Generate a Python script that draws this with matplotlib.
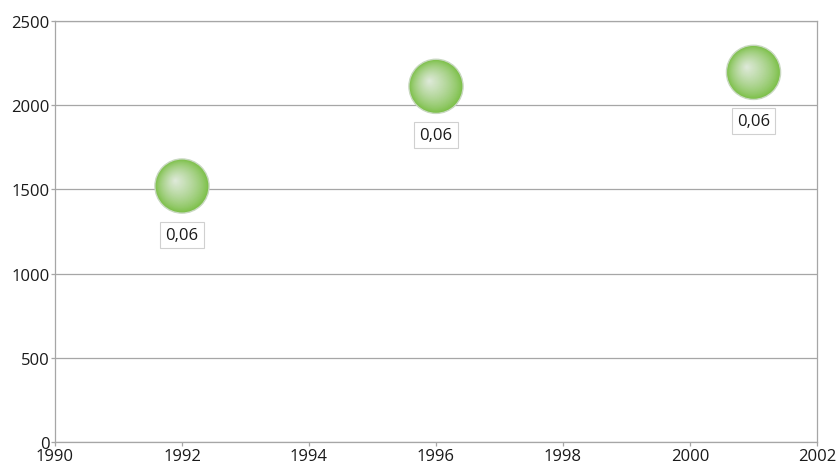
import numpy as np
import matplotlib
matplotlib.use("Agg")
import matplotlib.pyplot as plt
from matplotlib.transforms import ScaledTranslation

years = [1992, 1996, 2001]
values = [1520, 2112, 2195]
bubble_sizes = [0.06, 0.06, 0.06]
labels = ["0,06", "0,06", "0,06"]
x_ticks = [1990, 1992, 1994, 1996, 1998, 2000, 2002]
y_ticks = [0, 500, 1000, 1500, 2000, 2500]

plt.rcParams['font.family'] = ['Open Sans', 'DejaVu Sans']

fig = plt.figure(figsize=(8.37, 4.64), dpi=100)
ax = fig.add_axes([55 / 837, 21 / 464, 762 / 837, 421 / 464])
ax.set_xlim(1990, 2002)
ax.set_ylim(0, 2500)
ax.set_xticks(x_ticks)
ax.set_yticks(y_ticks)
ax.tick_params(axis='both', length=3, width=0.9, color='#a6a6a6',
               labelsize=12, labelcolor='#1a1a1a', pad=1)
ax.tick_params(axis='x', pad=1)
ax.yaxis.grid(True, color='#a6a6a6', linewidth=0.9)
ax.set_axisbelow(True)
for sp in ax.spines.values():
    sp.set_color('#a6a6a6')
    sp.set_linewidth(0.9)

# bubbles: diameter scales with sqrt of bubble size, radial shading
radius_pt = 19.5 * np.sqrt(np.array(bubble_sizes) / 0.06)
edge = np.array([120, 190, 66]) / 255
center = np.array([224, 234, 220]) / 255
n = 40
for i in range(n):
    t = i / n
    col = edge + (center - edge) * t ** 0.75
    r = radius_pt * (1 - t)
    shift = ScaledTranslation(-5.0 * t / 72, 4.0 * t / 72, fig.dpi_scale_trans)
    ax.scatter(years, values, s=(2 * r) ** 2, color=col, linewidths=0,
               transform=ax.transData + shift, zorder=3 + i * 0.01)
ax.scatter(years, values, s=(2 * radius_pt) ** 2, facecolors='none',
           edgecolors='#c8d8c0', linewidths=1.0, zorder=4)

for x, y, lab in zip(years, values, labels):
    ax.annotate(lab, (x, y), xytext=(0, -35), textcoords='offset points',
                ha='center', va='center', fontsize=12, color='#1a1a1a', zorder=5,
                bbox=dict(boxstyle='square,pad=0.3', fc='white', ec='#d0d0d0', lw=0.8))

fig.savefig('out.png', dpi=100)
